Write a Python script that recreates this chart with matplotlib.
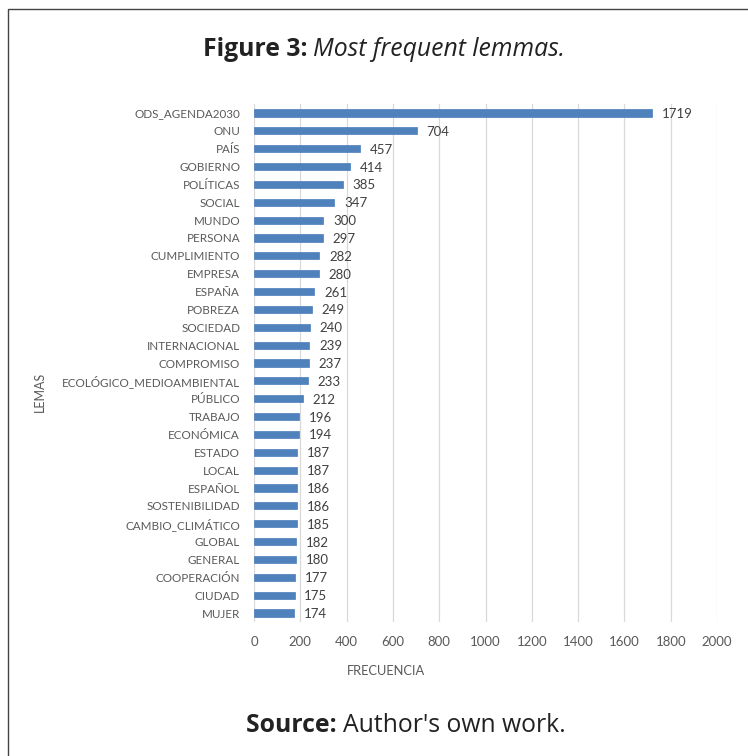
import matplotlib.pyplot as plt
from matplotlib.patches import Rectangle

lemas = ["ODS_AGENDA2030", "ONU", "PAÍS", "GOBIERNO", "POLÍTICAS", "SOCIAL",
         "MUNDO", "PERSONA", "CUMPLIMIENTO", "EMPRESA", "ESPAÑA", "POBREZA",
         "SOCIEDAD", "INTERNACIONAL", "COMPROMISO", "ECOLÓGICO_MEDIOAMBIENTAL",
         "PÚBLICO", "TRABAJO", "ECONÓMICA", "ESTADO", "LOCAL", "ESPAÑOL",
         "SOSTENIBILIDAD", "CAMBIO_CLIMÁTICO", "GLOBAL", "GENERAL",
         "COOPERACIÓN", "CIUDAD", "MUJER"]
frecuencia = [1719, 704, 457, 414, 385, 347, 300, 297, 282, 280, 261, 249,
              240, 239, 237, 233, 212, 196, 194, 187, 187, 186, 186, 185,
              182, 180, 177, 175, 174]
xticks = [0, 200, 400, 600, 800, 1000, 1200, 1400, 1600, 1800, 2000]

W, H = 748, 756
fig = plt.figure(figsize=(W / 100, H / 100), dpi=100)

# frame around the whole figure (runs off right/bottom edge)
fig.patches.append(Rectangle((8 / W, -0.05), 1.0, 1 - 9 / H + 0.05,
                             transform=fig.transFigure, fill=False,
                             edgecolor="#444444", linewidth=1.0))

ax = fig.add_axes([254 / W, 1 - 622 / H, 463 / W, 518 / H])
y = list(range(len(lemas)))
ax.barh(y, frecuencia, height=0.4, color="#4F81BD", edgecolor="#4A7EBB",
        linewidth=0.5, zorder=3)
ax.set_ylim(len(lemas) - 0.5, -0.5)
ax.set_xlim(0, 2000)
ax.set_yticks(y)
ax.set_yticklabels(lemas, fontfamily="Lato", fontsize=8.4, color="#595959")
ax.set_xticks(xticks)
ax.set_xticklabels([str(t) for t in xticks], fontfamily="Lato", fontsize=9.5,
                   color="#595959")
ax.tick_params(length=0, axis="y", pad=10)
ax.tick_params(length=0, axis="x", pad=10)
ax.grid(axis="x", color="#D9D9D9", linewidth=0.9, zorder=0)
for s in ax.spines.values():
    s.set_visible(False)

for yi, v in zip(y, frecuencia):
    ax.annotate(str(v), (v, yi), xytext=(7, 0), textcoords="offset points",
                va="center_baseline", ha="left", fontfamily="Lato",
                fontsize=9.5, color="#404040")

fig.text(386 / W, 1 - 671 / H, "FRECUENCIA", ha="center", va="center",
         fontfamily="Lato", fontsize=9.3, color="#595959")
fig.text(40 / W, 1 - 392 / H, "LEMAS", ha="center", va="center", rotation=90,
         fontfamily="Lato", fontsize=9, color="#595959")


def two_part(xc, yc, bold, rest, size, rest_style):
    r = fig.canvas.get_renderer()
    t1 = fig.text(0, yc, bold, fontfamily="Open Sans", fontweight="bold",
                  fontsize=size, color="#222222", va="center", ha="left")
    t2 = fig.text(0, yc, rest, fontfamily="Open Sans", style=rest_style,
                  fontsize=size, color="#222222", va="center", ha="left")
    w1 = t1.get_window_extent(r).width / W
    w2 = t2.get_window_extent(r).width / W
    x0 = xc - (w1 + w2) / 2
    t1.set_x(x0)
    t2.set_x(x0 + w1)


two_part(384 / W, 1 - 50 / H, "Figure 3: ", "Most frequent lemmas.", 17.8, "italic")
two_part(406 / W, 1 - 726 / H, "Source: ", "Author's own work.", 17.8, "normal")

fig.savefig("out.png", dpi=100)
